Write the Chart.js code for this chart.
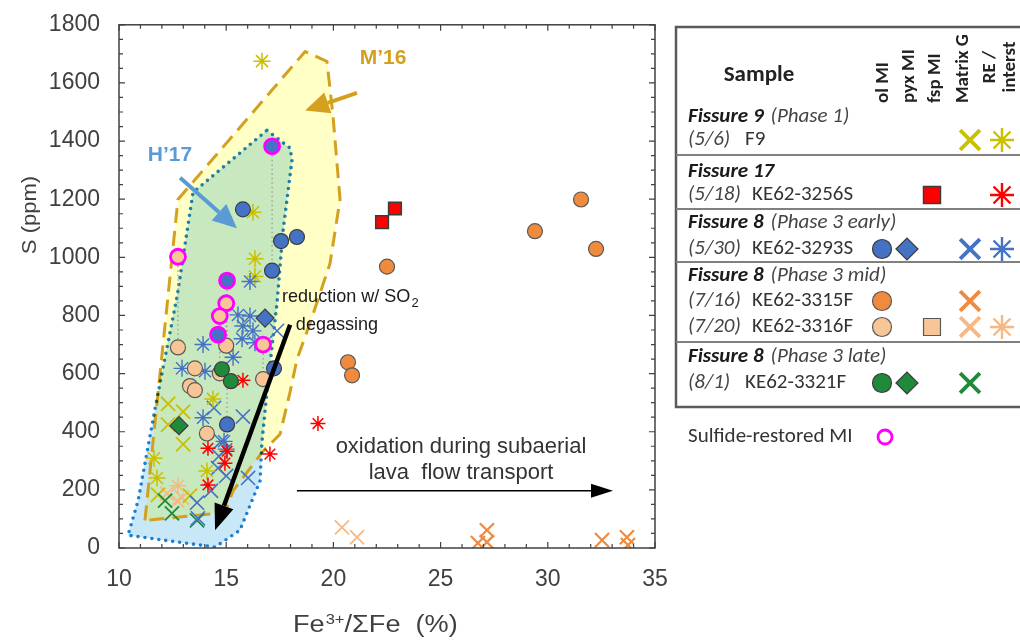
<!DOCTYPE html>
<html>
<head>
<meta charset="utf-8">
<script src="https://cdn.jsdelivr.net/npm/chart.js@4.4.1/dist/chart.umd.min.js"></script>
<style>
    html, body { margin: 0; padding: 0; background: #fff; }
    #wrap { width: 1020px; height: 641px; position: relative; }
</style>
</head>
<body>
<div id="wrap"><canvas id="chart" width="1020" height="641"></canvas></div>
<script>
'use strict';

// --- data: [Fe3+/ΣFe %, S ppm] ---
const f9MatrixG = [[12.29, 496], [12.99, 469], [12.29, 424], [12.99, 357], [11.82, 183], [13.31, 180]];
const f9RE = [[16.67, 1675], [16.25, 1155], [16.34, 995], [16.34, 934], [14.38, 513], [11.63, 309], [11.77, 241], [14.10, 265]];
const k3256Fsp = [[22.27, 1121], [22.87, 1168]];
const k3256RE = [[15.78, 577], [14.15, 343], [15.04, 333], [14.94, 292], [14.15, 217], [17.04, 323], [19.28, 428]];
const k3293Ol = [[15.78, 1165], [17.56, 1056], [18.30, 1070], [17.14, 954], [17.23, 618], [15.04, 425]];
const k3293OlRestored = [[17.14, 1382], [15.04, 920], [14.62, 734]];
const k3293Pyx = [[16.81, 791]];
const k3293MatrixG = [[17.37, 747], [14.43, 482], [15.78, 452], [14.76, 367], [14.66, 316], [14.62, 275], [15.0, 248], [16.02, 241], [14.29, 197], [13.64, 156], [13.68, 102]];
const k3293RE = [[16.11, 917], [15.55, 802], [16.11, 798], [15.78, 764], [16.25, 747], [15.74, 720], [16.34, 706], [13.92, 700], [12.94, 618], [14.01, 608], [15.32, 656], [13.92, 448], [14.90, 367], [15.0, 340]];
const k3315Ol = [[29.40, 1090], [31.55, 1199], [32.25, 1029], [22.50, 968], [20.68, 639], [20.87, 594]];
const k3315MatrixG = [[26.74, 17], [27.16, 61], [27.16, 20], [32.53, 27], [33.69, 37], [33.74, 10]];
const k3316Ol = [[15.0, 696], [12.75, 690], [13.54, 618], [13.31, 557], [13.54, 543], [14.7, 601], [16.72, 581], [14.10, 394]];
const k3316OlRestored = [[12.75, 1002], [15.0, 842], [14.7, 798], [16.72, 700]];
const k3316MatrixG = [[20.40, 71], [21.10, 37], [12.24, 187], [12.71, 163], [12.94, 173]];
const k3316RE = [[12.75, 214]];
const k3321Ol = [[14.80, 615], [15.22, 574]];
const k3321Pyx = [[12.80, 421]];
const k3321MatrixG = [[12.15, 163], [12.47, 119], [13.64, 95]];

// restored MI -> measured MI: [x, restored S, measured S]
const restoredLinks = [[17.14, 1382, 954], [12.75, 1002, 690], [15.04, 920, 425], [15.0, 842, 696], [14.7, 798, 601], [16.72, 700, 581]];

// literature fields
const m16Region = [[11.21, 95], [12.75, 1199], [18.68, 1708], [19.70, 1674], [19.98, 1488], [20.31, 1199], [19.84, 978], [18.91, 774], [18.30, 649], [17.98, 537], [17.51, 391], [16.72, 333], [15.32, 197], [14.94, 122]];
const h17Region = [[16.90, 1437], [17.98, 1376], [18.07, 1335], [17.65, 1090], [17.37, 842], [16.95, 571], [16.67, 367], [16.58, 231], [15.64, 61], [14.48, 3], [10.42, 44], [10.89, 163], [11.68, 479], [12.71, 866], [13.45, 1223]];

// trend arrows [x1, y1, x2, y2]
const arrowH17 = [12.85, 1274, 15.50, 1100];
const arrowM16 = [21.10, 1566, 18.68, 1505];
const arrowReduction = [17.98, 768, 14.48, 61];
const arrowOxidation = [18.30, 197, 33.04, 197];

const YELLOW = '#c8c000';
const RED = '#ff0000';
const BLUE = '#4472c4';
const ORANGE = '#f08a3c';
const LIGHT_ORANGE = '#f8c596';
const LIGHT_ORANGE_MARK = '#f7b884';
const GREEN = '#1e8a3a';
const MAGENTA = '#ff00ff';
const EDGE = '#3c3c3c';
const TEXT = '#404040';

const FONT_AXIS = '"Liberation Sans", Arial, sans-serif';
const FONT_LEG = 'Carlito, "Open Sans", sans-serif';

function pts(arr) {
    return arr.map(([x, y]) => ({ x, y }));
}

function marks(arr, style, fill, stroke, radius, width) {
    return {
        data: pts(arr),
        pointStyle: style,
        pointRadius: radius,
        pointBackgroundColor: fill,
        pointBorderColor: stroke,
        pointBorderWidth: width,
        showLine: false
    };
}

const datasets = [];
restoredLinks.forEach(([x, top, bottom]) => {
    datasets.push({
        data: [{ x, y: top }, { x, y: bottom }],
        showLine: true,
        borderColor: '#9a9a9a',
        borderWidth: 1.3,
        borderDash: [1.5, 3],
        pointRadius: 0
    });
});
datasets.push(marks(k3315MatrixG, 'crossRot', ORANGE, ORANGE, 10, 2.2));
datasets.push(marks(k3316MatrixG, 'crossRot', LIGHT_ORANGE_MARK, LIGHT_ORANGE_MARK, 10, 1.8));
datasets.push(marks(f9MatrixG, 'crossRot', YELLOW, YELLOW, 10, 1.8));
datasets.push(marks(k3321MatrixG, 'crossRot', GREEN, GREEN, 10, 1.8));
datasets.push(marks(k3293MatrixG, 'crossRot', BLUE, BLUE, 10, 1.6));
datasets.push(marks(f9RE, 'star', YELLOW, YELLOW, 8.5, 1.5));
datasets.push(marks(k3316RE, 'star', LIGHT_ORANGE_MARK, LIGHT_ORANGE_MARK, 8.5, 1.5));
datasets.push(marks(k3293RE, 'star', BLUE, BLUE, 8.5, 1.4));
datasets.push(marks(k3256RE, 'star', RED, RED, 7.5, 1.5));
datasets.push(marks(k3316Ol, 'circle', LIGHT_ORANGE, '#5a5a5a', 7.5, 1.2));
datasets.push(marks(k3315Ol, 'circle', ORANGE, '#5a5a5a', 7.5, 1.2));
datasets.push(marks(k3293Ol, 'circle', BLUE, EDGE, 7.5, 1.2));
datasets.push(marks(k3321Ol, 'circle', GREEN, EDGE, 7.5, 1.2));
datasets.push(marks(k3293Pyx, 'rectRot', BLUE, EDGE, 9, 1.2));
datasets.push(marks(k3321Pyx, 'rectRot', GREEN, EDGE, 9, 1.2));
datasets.push(marks(k3256Fsp, 'rect', RED, EDGE, 9, 1.5));
datasets.push(marks(k3316OlRestored, 'circle', LIGHT_ORANGE, MAGENTA, 7.5, 2.8));
datasets.push(marks(k3293OlRestored, 'circle', BLUE, MAGENTA, 7.5, 2.8));
// first listed is drawn at the bottom
datasets.forEach((d, i) => { d.order = datasets.length - i; });

function toPx(chart, x, y) {
    return [chart.scales.x.getPixelForValue(x), chart.scales.y.getPixelForValue(y)];
}

function tracePoly(ctx, chart, poly) {
    ctx.beginPath();
    poly.forEach(([x, y], i) => {
        const [px, py] = toPx(chart, x, y);
        if (i) ctx.lineTo(px, py); else ctx.moveTo(px, py);
    });
    ctx.closePath();
}

function arrow(ctx, chart, a, color, width, headLen, headW) {
    const [x1, y1] = toPx(chart, a[0], a[1]);
    const [x2, y2] = toPx(chart, a[2], a[3]);
    const ang = Math.atan2(y2 - y1, x2 - x1);
    const bx = x2 - Math.cos(ang) * headLen;
    const by = y2 - Math.sin(ang) * headLen;
    ctx.save();
    ctx.strokeStyle = color;
    ctx.fillStyle = color;
    ctx.lineWidth = width;
    ctx.beginPath();
    ctx.moveTo(x1, y1);
    ctx.lineTo(bx, by);
    ctx.stroke();
    ctx.beginPath();
    ctx.moveTo(x2, y2);
    ctx.lineTo(bx + Math.sin(ang) * headW / 2, by - Math.cos(ang) * headW / 2);
    ctx.lineTo(bx - Math.sin(ang) * headW / 2, by + Math.cos(ang) * headW / 2);
    ctx.closePath();
    ctx.fill();
    ctx.restore();
}

function txt(ctx, s, x, y, font, color, align = 'left', sx = 1) {
    ctx.save();
    ctx.font = font;
    ctx.fillStyle = color;
    ctx.textAlign = align;
    ctx.textBaseline = 'middle';
    ctx.translate(x, y);
    ctx.scale(sx, 1);
    ctx.fillText(s, 0, 0);
    const w = ctx.measureText(s).width * sx;
    ctx.restore();
    return w;
}

const regionsPlugin = {
    id: 'regions',
    beforeDatasetsDraw(chart) {
        const { ctx, chartArea: a } = chart;
        ctx.save();
        ctx.beginPath();
        ctx.rect(a.left, a.top, a.right - a.left, a.bottom - a.top);
        ctx.clip();

        tracePoly(ctx, chart, m16Region);
        ctx.fillStyle = '#ffffc6';
        ctx.fill();

        ctx.globalCompositeOperation = 'multiply';
        tracePoly(ctx, chart, h17Region);
        ctx.fillStyle = '#c8e8f8';
        ctx.fill();
        ctx.globalCompositeOperation = 'source-over';

        tracePoly(ctx, chart, m16Region);
        ctx.setLineDash([15, 8]);
        ctx.strokeStyle = '#d4a020';
        ctx.lineWidth = 3;
        ctx.stroke();

        ctx.globalCompositeOperation = 'multiply';
        tracePoly(ctx, chart, h17Region);
        ctx.setLineDash([0, 7]);
        ctx.lineCap = 'round';
        ctx.lineWidth = 3.6;
        ctx.strokeStyle = '#1f86d6';
        ctx.stroke();
        ctx.restore();
    }
};

const overlayPlugin = {
    id: 'overlay',
    afterDatasetsDraw(chart) {
        const { ctx, chartArea: a } = chart;
        const sx = chart.scales.x, sy = chart.scales.y;

        // frame + inward ticks on all sides
        ctx.save();
        ctx.strokeStyle = TEXT;
        ctx.lineWidth = 1.5;
        ctx.strokeRect(a.left, a.top, a.right - a.left, a.bottom - a.top);
        ctx.lineWidth = 1.2;
        ctx.beginPath();
        for (let v = 10; v <= 35; v += 1) {
            const p = sx.getPixelForValue(v);
            const len = v % 5 === 0 ? 6 : 4;
            ctx.moveTo(p, a.bottom); ctx.lineTo(p, a.bottom - len);
            ctx.moveTo(p, a.top); ctx.lineTo(p, a.top + len);
        }
        for (let v = 0; v <= 1800; v += 50) {
            const p = sy.getPixelForValue(v);
            const len = v % 200 === 0 ? 6 : 4;
            ctx.moveTo(a.left, p); ctx.lineTo(a.left + len, p);
            ctx.moveTo(a.right, p); ctx.lineTo(a.right - len, p);
        }
        ctx.stroke();
        ctx.restore();

        // arrows
        arrow(ctx, chart, arrowH17, '#5b9bd5', 4, 24, 22);
        arrow(ctx, chart, arrowM16, '#d4a020', 4, 24, 22);
        arrow(ctx, chart, arrowReduction, '#000', 4.5, 26, 20);
        arrow(ctx, chart, arrowOxidation, '#000', 1.6, 22, 14);

        // field labels and annotations
        txt(ctx, 'H\u201917', 170, 155, 'bold 21px ' + FONT_AXIS, '#5b9bd5', 'center');
        txt(ctx, 'M\u201916', 383, 58, 'bold 21px ' + FONT_AXIS, '#d4a020', 'center');
        const w = txt(ctx, 'reduction w/ SO', 282, 297, '19px ' + FONT_AXIS, '#1a1a1a', 'left', 0.95);
        txt(ctx, '2', 282 + w + 1, 303, '13px ' + FONT_AXIS, '#1a1a1a', 'left');
        txt(ctx, 'degassing', 337, 325, '19px ' + FONT_AXIS, '#1a1a1a', 'center', 0.95);
        txt(ctx, 'oxidation during subaerial', 461, 447, '22px ' + FONT_AXIS, '#333', 'center');
        txt(ctx, 'lava  flow transport', 461, 473, '22px ' + FONT_AXIS, '#333', 'center');
    },
    afterDraw(chart) {
        const ctx = chart.ctx;
        const H = window.Chart.helpers;

        // axis titles
        ctx.save();
        ctx.translate(30, 215);
        ctx.rotate(-Math.PI / 2);
        txt(ctx, 'S (ppm)', 0, 0, '21px ' + FONT_AXIS, TEXT, 'center', 1.05);
        ctx.restore();
        let x = 293;
        x += txt(ctx, 'Fe', x, 626, '23px ' + FONT_AXIS, TEXT, 'left', 1.18);
        x += txt(ctx, '3+', x + 1, 620, '14px ' + FONT_AXIS, TEXT, 'left', 1.18) + 1;
        txt(ctx, '/\u03A3Fe  (%)', x, 626, '23px ' + FONT_AXIS, TEXT, 'left', 1.18);

        // legend table
        ctx.save();
        ctx.strokeStyle = '#5a5a5a';
        ctx.lineWidth = 2.5;
        ctx.strokeRect(676, 27, 346, 380);
        ctx.lineWidth = 2;
        ctx.strokeStyle = '#808080';
        ctx.beginPath();
        [155, 209, 262, 342].forEach(yy => { ctx.moveTo(676, yy); ctx.lineTo(1020, yy); });
        ctx.stroke();
        ctx.restore();

        txt(ctx, 'Sample', 759, 75, '600 23px ' + FONT_LEG, '#222', 'center');
        const headers = [['ol MI', 883], ['pyx MI', 909], ['fsp MI', 935], ['Matrix G', 963]];
        headers.forEach(([s, hx]) => {
            ctx.save();
            ctx.translate(hx, 103);
            ctx.rotate(-Math.PI / 2);
            txt(ctx, s, 0, 0, 'bold 19px ' + FONT_LEG, '#222', 'left');
            ctx.restore();
        });
        [['RE /', 990], ['interst', 1010]].forEach(([s, hx]) => {
            ctx.save();
            ctx.translate(hx, 67);
            ctx.rotate(-Math.PI / 2);
            txt(ctx, s, 0, 0, 'bold 19px ' + FONT_LEG, '#222', 'center');
            ctx.restore();
        });

        const groups = [['Fissure 9', '(Phase 1)', 117], ['Fissure 17', '', 172], ['Fissure 8', '(Phase 3 early)', 223],
            ['Fissure 8', '(Phase 3 mid)', 276], ['Fissure 8', '(Phase 3 late)', 357]];
        groups.forEach(([a, b, yy]) => {
            const w = txt(ctx, a, 688, yy, 'italic bold 21px ' + FONT_LEG, '#1a1a1a');
            if (b) txt(ctx, b, 688 + w + 7, yy, 'italic 21px ' + FONT_LEG, '#444');
        });
        const samples = [['(5/6)', 'F9', 140, 745], ['(5/18)', 'KE62-3256S', 195, 752], ['(5/30)', 'KE62-3293S', 249, 752],
            ['(7/16)', 'KE62-3315F', 301, 752], ['(7/20)', 'KE62-3316F', 327, 752], ['(8/1)', 'KE62-3321F', 383, 745]];
        samples.forEach(([d, s, yy, sxp]) => {
            txt(ctx, d, 688, yy, 'italic 21px ' + FONT_LEG, '#444');
            txt(ctx, s, sxp, yy, '21px ' + FONT_LEG, '#333');
        });
        txt(ctx, 'Sulfide-restored MI', 688, 437, '21px ' + FONT_LEG, '#333');

        const legendMarks = [
            ['crossRot', YELLOW, YELLOW, 970, 140, 14, 3.8], ['star', YELLOW, YELLOW, 1002, 140, 12, 2.4],
            ['rect', RED, EDGE, 932, 195, 12, 1.5], ['star', RED, RED, 1002, 195, 12, 2.4],
            ['circle', BLUE, EDGE, 882, 249, 9.5, 1.2], ['rectRot', BLUE, EDGE, 907, 249, 11, 1.2],
            ['crossRot', BLUE, BLUE, 970, 249, 14, 3.8], ['star', BLUE, BLUE, 1002, 249, 12, 2.4],
            ['circle', ORANGE, '#5a5a5a', 882, 301, 9.5, 1.2], ['crossRot', ORANGE, ORANGE, 970, 301, 14, 3.8],
            ['circle', LIGHT_ORANGE, '#5a5a5a', 882, 327, 9.5, 1.2], ['rect', LIGHT_ORANGE, '#5a5a5a', 932, 327, 12, 1.2],
            ['crossRot', LIGHT_ORANGE_MARK, LIGHT_ORANGE_MARK, 970, 327, 14, 3.8], ['star', LIGHT_ORANGE_MARK, LIGHT_ORANGE_MARK, 1002, 327, 12, 2.4],
            ['circle', GREEN, EDGE, 882, 383, 9.5, 1.2], ['rectRot', GREEN, EDGE, 907, 383, 11, 1.2],
            ['crossRot', GREEN, GREEN, 970, 383, 14, 3.8],
            ['circle', '#fff', MAGENTA, 885, 437, 7, 2.8]
        ];
        legendMarks.forEach(([style, fill, stroke, mx, my, r, bw]) => {
            ctx.save();
            ctx.fillStyle = fill;
            ctx.strokeStyle = stroke;
            ctx.lineWidth = bw;
            H.drawPoint(ctx, { pointStyle: style, radius: r, rotation: 0, borderWidth: bw }, mx, my);
            ctx.restore();
        });
    }
};

new Chart(document.getElementById('chart'), {
    type: 'scatter',
    data: { datasets },
    options: {
        responsive: false,
        animation: false,
        layout: { padding: { left: 0, right: 365, top: 18, bottom: 0 } },
        plugins: { legend: { display: false }, tooltip: { enabled: false } },
        scales: {
            x: {
                type: 'linear', min: 10, max: 35,
                ticks: { stepSize: 5, color: TEXT, font: { family: FONT_AXIS, size: 23 }, padding: 10, callback: v => String(v) },
                grid: { display: false },
                border: { display: false },
                afterFit(s) { s.height = 93; }
            },
            y: {
                type: 'linear', min: 0, max: 1800,
                ticks: { stepSize: 200, color: TEXT, font: { family: FONT_AXIS, size: 23 }, padding: 11, callback: v => String(v) },
                grid: { display: false },
                border: { display: false },
                afterFit(s) { s.width = 119; }
            }
        }
    },
    plugins: [regionsPlugin, overlayPlugin]
});
</script>
</body>
</html>
